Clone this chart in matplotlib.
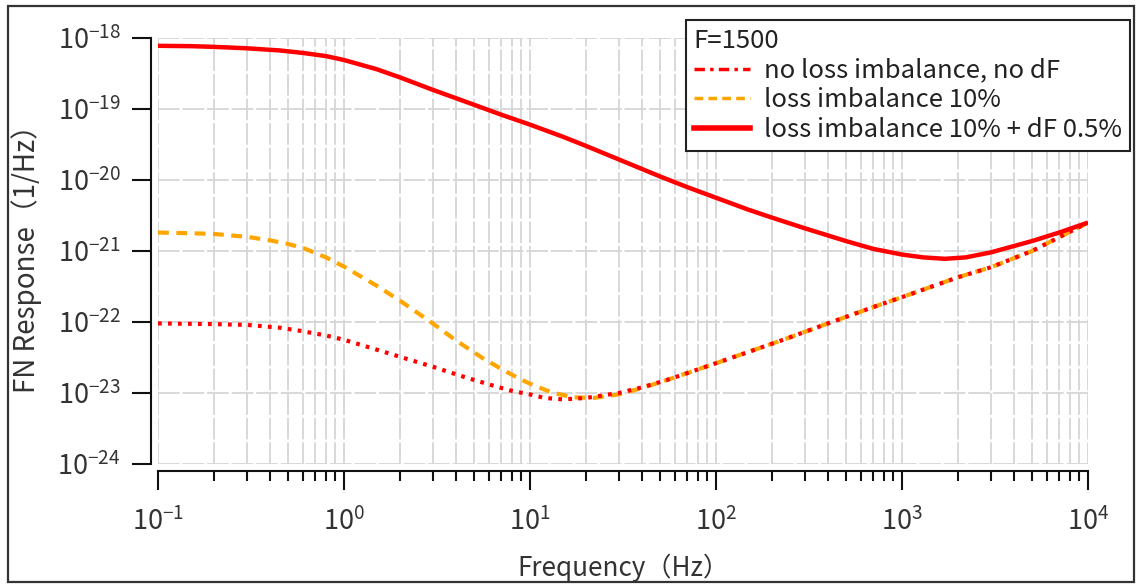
import numpy as np
import matplotlib
matplotlib.use("Agg")
import matplotlib.pyplot as plt
from matplotlib.lines import Line2D
from matplotlib.patches import Rectangle
from matplotlib.ticker import FixedLocator, FuncFormatter, NullLocator

plt.rcParams['font.family'] = ['Noto Sans CJK JP', 'DejaVu Sans']
plt.rcParams['mathtext.fontset'] = 'custom'
plt.rcParams['mathtext.rm'] = 'Noto Sans CJK JP'
plt.rcParams['mathtext.it'] = 'Noto Sans CJK JP'
plt.rcParams['mathtext.bf'] = 'Noto Sans CJK JP'

# ---- data (frequency in Hz, response as log10 of 1/Hz) ----
freq_full = [0.1, 0.15, 0.2, 0.3, 0.45, 0.6, 0.8, 1, 1.5, 2, 3, 5, 7, 10, 15, 20, 30,
             50, 70, 100, 150, 200, 300, 500, 700, 1000, 1300, 1700, 2200, 3000, 5000,
             7000, 10000]
log_full = [-18.11, -18.115, -18.125, -18.145, -18.175, -18.21, -18.255, -18.31, -18.44,
            -18.555, -18.73, -18.94, -19.08, -19.22, -19.39, -19.52, -19.71, -19.95,
            -20.10, -20.25, -20.42, -20.53, -20.68, -20.86, -20.97, -21.05, -21.09,
            -21.11, -21.09, -21.02, -20.86, -20.74, -20.60]

freq_imb = [0.1, 0.15, 0.2, 0.3, 0.4, 0.5, 0.62, 0.8, 1, 1.5, 2, 3, 4, 5.5, 7, 8.5, 10,
            13, 17, 22, 30, 40, 54, 70, 100, 150, 230, 400, 700, 1000, 2000, 3000, 5000, 10000]
log_imb = [-20.74, -20.75, -20.76, -20.80, -20.85, -20.90, -20.97, -21.09, -21.22, -21.49,
           -21.70, -22.02, -22.26, -22.50, -22.66, -22.78, -22.87, -22.99, -23.06, -23.07,
           -23.02, -22.93, -22.82, -22.72, -22.58, -22.42, -22.25, -22.02, -21.79, -21.65,
           -21.37, -21.23, -21.00, -20.60]

freq_none = [0.1, 0.2, 0.3, 0.45, 0.6, 0.8, 1, 1.5, 2, 3, 4.5, 6.6, 8, 10, 12, 15, 20,
             30, 40, 54, 70, 100, 150, 230, 400, 700, 1000, 2000, 3000, 5000, 10000]
log_none = [-22.02, -22.03, -22.04, -22.08, -22.13, -22.19, -22.25, -22.39, -22.49, -22.63,
            -22.78, -22.91, -22.97, -23.02, -23.07, -23.09, -23.07, -23.00, -22.92, -22.82,
            -22.72, -22.58, -22.42, -22.25, -22.02, -21.79, -21.65, -21.37, -21.23, -21.00,
            -20.60]

x_decades = [-1, 0, 1, 2, 3, 4]
y_decades = [-24, -23, -22, -21, -20, -19, -18]

legend_title = "F=1500"
labels = ["no loss imbalance, no dF", "loss imbalance 10%", "loss imbalance 10% + dF 0.5%"]

W, H = 1140, 584
fig = plt.figure(figsize=(W / 100, H / 100), dpi=100)
ax = fig.add_axes([158 / W, 1 - 464 / H, 930 / W, 426 / H])

ax.set_xscale('log')
ax.set_yscale('log')
ax.set_xlim(0.1, 1e4)
ax.set_ylim(1e-24, 1e-18)

x_major = [10.0 ** d for d in x_decades]
x_minor = [m * 10.0 ** d for d in x_decades[:-1] for m in range(2, 10)]
y_major = [10.0 ** d for d in y_decades]
ax.xaxis.set_major_locator(FixedLocator(x_major))
ax.xaxis.set_minor_locator(FixedLocator(x_minor))
ax.yaxis.set_major_locator(FixedLocator(y_major))
ax.yaxis.set_minor_locator(NullLocator())

grid_kw = dict(color='#d6d6d6', linewidth=1.3, dashes=(12, 1.6))
ax.grid(True, which='major', axis='both', **grid_kw)
ax.grid(True, which='minor', axis='x', **grid_kw)
ax.set_axisbelow(True)

c_red = '#ff0000'
c_orange = '#ffa500'
ax.plot(freq_none, 10 ** np.array(log_none), color=c_red, lw=3.0, dashes=(0.9, 1.5),
        dash_capstyle='butt', zorder=4)
ax.plot(freq_imb, 10 ** np.array(log_imb), color=c_orange, lw=3.0, dashes=(2.6, 1.8),
        zorder=3)
ax.plot(freq_full, 10 ** np.array(log_full), color=c_red, lw=3.2, solid_capstyle='butt',
        solid_joinstyle='round', zorder=5)

fmt = FuncFormatter(lambda v, p: r'$\mathregular{10^{%d}}$' % int(round(np.log10(v))))
ax.xaxis.set_major_formatter(fmt)
ax.yaxis.set_major_formatter(fmt)

for side in ['top', 'right']:
    ax.spines[side].set_visible(False)
for side in ['left', 'bottom']:
    ax.spines[side].set_position(('outward', 5))
    ax.spines[side].set_linewidth(1.5)
    ax.spines[side].set_color('#111111')

ax.tick_params(axis='both', which='major', length=14, width=1.5, colors='#111111',
               labelsize=19.5, labelcolor='#333333')
ax.tick_params(axis='x', which='minor', length=7, width=1.5, colors='#111111')
ax.tick_params(axis='x', which='major', pad=12)
ax.tick_params(axis='y', which='major', pad=8)

fig.text(623 / W, 1 - 568 / H, "Frequency（Hz）", ha='center', va='center',
         fontsize=18.8, color='#333333')
fig.text(27 / W, 1 - 252 / H, "FN Response（1/Hz）", ha='center', va='center',
         rotation=90, fontsize=20, color='#333333')

handles = [
    Line2D([], [], color=c_red, lw=2.5, dashes=(3, 1.5, 1, 1.5)),
    Line2D([], [], color=c_orange, lw=2.5, dashes=(2.5, 1.5)),
    Line2D([], [], color=c_red, lw=4.0),
]
leg = ax.legend(handles, labels, title=legend_title, loc='upper right',
                bbox_to_anchor=(1130 / W, 1 - 20 / H), bbox_transform=fig.transFigure,
                borderaxespad=0, fontsize=18.5, title_fontsize=18.5, alignment='left',
                handlelength=2.2, handletextpad=0.55, labelspacing=0.15,
                borderpad=0.3, fancybox=False, framealpha=1, edgecolor='#222222')
leg.get_frame().set_linewidth(1.5)
for t in leg.get_texts():
    t.set_color('#222222')
leg.get_title().set_color('#222222')

fig.add_artist(Rectangle((8 / W, 1 - 582 / H), 1126 / W, 576 / H, transform=fig.transFigure,
                         fill=False, lw=1.6, ec='#333333'))

fig.savefig('out.png', dpi=100)
